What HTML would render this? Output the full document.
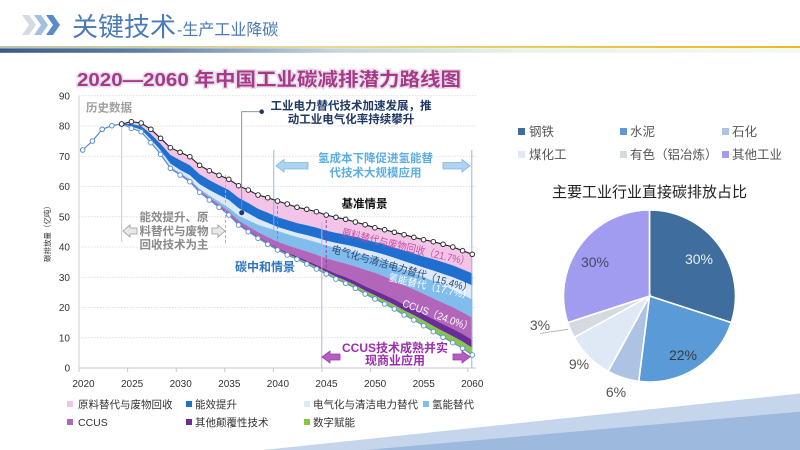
<!DOCTYPE html>
<html><head><meta charset="utf-8"><style>
html,body{margin:0;padding:0;background:#fff;width:800px;height:450px;overflow:hidden}
svg{display:block}
text{font-family:"Liberation Sans","Noto Sans CJK SC",sans-serif}
</style></head><body>
<svg id="s" width="800" height="450" viewBox="0 0 800 450" xmlns="http://www.w3.org/2000/svg">
<defs>
<linearGradient id="g1" x1="0" x2="1"><stop offset="0" stop-color="#b8c4a8"/><stop offset="0.4" stop-color="#ead890"/><stop offset="1" stop-color="#f2b818"/></linearGradient>
<linearGradient id="g2" x1="0" x2="1"><stop offset="0" stop-color="#3a5a8a"/><stop offset="0.18" stop-color="#5e7fa8"/><stop offset="0.42" stop-color="#c4d4dc"/><stop offset="0.65" stop-color="#eaf3e8"/><stop offset="1" stop-color="#f4f9f0"/></linearGradient>
</defs>

<!-- header -->
<polygon points="22,15 29,15 36,25 29,35 22,35 29,25" fill="#d4dbe3"/>
<polygon points="34,15 41,15 48,25 41,35 34,35 41,25" fill="#a3bfe2"/>
<polygon points="46,15 53,15 60,25 53,35 46,35 53,25" fill="#5a8ac8"/>
<text x="72" y="36" font-size="26" fill="#4a7ab8">关键技术</text>
<text x="177" y="35" font-size="16" fill="#4a7ab8">-生产工业降碳</text>
<rect x="0" y="46" width="800" height="2" fill="url(#g1)"/>
<rect x="0" y="48.3" width="800" height="4.5" fill="url(#g2)"/>

<!-- bottom-right decoration -->
<polygon points="263,450 800,393.5 800,450" fill="#c5d6ec"/>
<polygon points="366,450 800,411.7 800,450" fill="#9db9dd"/>

<!-- chart title -->
<text x="77" y="86" font-size="18.5" font-weight="bold" fill="#a53a88" stroke="#eadcea" stroke-width="3" paint-order="stroke" textLength="384" lengthAdjust="spacingAndGlyphs">2020—2060 年中国工业碳减排潜力路线图</text>

<!-- grid -->
<g id="grid" stroke="#d6d6d6" stroke-width="0.8" stroke-dasharray="1.5,1.5"></g>
<line x1="79" y1="96" x2="79" y2="368" stroke="#d0d0d0" stroke-width="1"/>
<line x1="79" y1="368" x2="476" y2="368" stroke="#c8c8c8" stroke-width="1"/>
<g id="ticks" stroke="#c8c8c8" stroke-width="1"></g>
<g id="ylab" font-size="10" fill="#333" text-anchor="end"></g>
<g id="xlab" font-size="10" fill="#333" text-anchor="middle"></g>
<text transform="translate(50,232) rotate(-90)" font-size="7.5" fill="#333" text-anchor="middle">碳排放量（亿吨）</text>

<g id="bands"></g>

<!-- vertical guide lines -->
<line x1="121.7" y1="124" x2="121.7" y2="242" stroke="#c8c8c8" stroke-width="1"/>
<line x1="225.5" y1="175" x2="225.5" y2="243" stroke="#b0b0b0" stroke-width="0.9" stroke-dasharray="3,2"/>
<line x1="273.8" y1="150" x2="273.8" y2="238" stroke="#7ab6e6" stroke-width="0.9"/>
<line x1="471.8" y1="150" x2="471.8" y2="368" stroke="#7ab6e6" stroke-width="0.9"/>
<line x1="321.8" y1="222" x2="321.8" y2="368" stroke="#c8a8dc" stroke-width="1"/>

<g id="lines"></g>

<!-- annotations -->
<text x="86" y="111.5" font-size="11.5" fill="#a0a0a0" font-weight="bold">历史数据</text>

<g font-size="11.5" fill="#8a8a8a" font-weight="bold" text-anchor="middle">
<text x="174" y="221">能效提升、原</text>
<text x="174" y="235">料替代与废物</text>
<text x="174" y="248.5">回收技术为主</text>
</g>
<polygon points="123,231 130,225 130,228 137,228 137,234 130,234 130,237" fill="#e8e8e8" stroke="#9a9a9a" stroke-width="0.8"/>
<polygon points="225,231 218,225 218,228 212,228 212,234 218,234 218,237" fill="#e8e8e8" stroke="#9a9a9a" stroke-width="0.8"/>

<polyline points="261.7,111.7 241.7,111.7 241.7,212.7" fill="none" stroke="#7a8698" stroke-width="0.9"/>
<circle cx="261.7" cy="111.7" r="2.3" fill="#1f3864"/>
<circle cx="241.7" cy="212.7" r="2.5" fill="#1f3864"/>
<g font-size="11.5" fill="#1f3864" font-weight="bold" text-anchor="middle">
<text x="351" y="109.5">工业电力替代技术加速发展，推</text>
<text x="351" y="123">动工业电气化率持续攀升</text>
</g>

<g font-size="11.5" fill="#5aaee4" font-weight="bold" text-anchor="middle">
<text x="375.5" y="162">氢成本下降促进氢能替</text>
<text x="375.5" y="176.5">代技术大规模应用</text>
</g>
<polygon points="276,165.7 284,159.5 284,162.5 308,162.5 308,169 284,169 284,172" fill="#aed3ef" stroke="#7bb8e4" stroke-width="0.8"/>
<polygon points="470,165.7 462,159.5 462,162.5 443,162.5 443,169 462,169 462,172" fill="#aed3ef" stroke="#7bb8e4" stroke-width="0.8"/>

<text x="364.5" y="207.5" font-size="11.5" font-weight="bold" fill="#111" text-anchor="middle">基准情景</text>
<text x="235" y="271" font-size="12" font-weight="bold" fill="#2e75c0">碳中和情景</text>

<text transform="translate(341.2,235.7) rotate(13.2)" font-size="10.5" fill="#c44fa2" textLength="131" lengthAdjust="spacingAndGlyphs">原料替代与废物回收（21.7%）</text>
<text transform="translate(330.8,252.2) rotate(16)" font-size="10.5" fill="#2c4a7a" textLength="146" lengthAdjust="spacingAndGlyphs">电气化与清洁电力替代（15.4%）</text>
<text transform="translate(388,280.4) rotate(13)" font-size="10" fill="#ffffff" textLength="85" lengthAdjust="spacingAndGlyphs">氢能替代（17.7%）</text>
<text transform="translate(401.6,306.1) rotate(20)" font-size="10.5" fill="#ffffff" textLength="74" lengthAdjust="spacingAndGlyphs">CCUS（24.0%）</text>

<g font-size="12" fill="#9b2fae" font-weight="bold" text-anchor="middle">
<text x="395" y="352">CCUS技术成熟并实</text>
<text x="395" y="364.5">现商业应用</text>
</g>
<polygon points="322,357 330,351 330,354 340,354 340,360 330,360 330,363" fill="#b35fc2" stroke="#9a3aae" stroke-width="0.8"/>
<polygon points="470,357 462,351 462,354 453,354 453,360 462,360 462,363" fill="#b35fc2" stroke="#9a3aae" stroke-width="0.8"/>

<!-- chart legend -->
<g font-size="10.5" fill="#333">
<rect x="67" y="401" width="6" height="6" fill="#f3c3e8"/><text x="78" y="408">原料替代与废物回收</text>
<rect x="186" y="401" width="6" height="6" fill="#1f6fd0"/><text x="195" y="408">能效提升</text>
<rect x="304" y="401" width="6" height="6" fill="#dde9f6"/><text x="313" y="408">电气化与清洁电力替代</text>
<rect x="423" y="401" width="6" height="6" fill="#80bdec"/><text x="432" y="408">氢能替代</text>
<rect x="67" y="419" width="6" height="6" fill="#b266b9"/><text x="78" y="426">CCUS</text>
<rect x="186" y="419" width="6" height="6" fill="#6b2b99"/><text x="195" y="426">其他颠覆性技术</text>
<rect x="304" y="419" width="6" height="6" fill="#86c846"/><text x="313" y="426">数字赋能</text>
</g>

<!-- pie legend -->
<g font-size="12.5" fill="#555">
<rect x="518" y="128" width="7" height="7" fill="#3f6e9e"/><text x="529" y="136">钢铁</text>
<rect x="620" y="128" width="7" height="7" fill="#5a9ad6"/><text x="630" y="136">水泥</text>
<rect x="722" y="128" width="7" height="7" fill="#adc3e3"/><text x="732" y="136">石化</text>
<rect x="518" y="151" width="7" height="7" fill="#dfe9f6"/><text x="529" y="159">煤化工</text>
<rect x="620" y="151" width="7" height="7" fill="#d5dae1"/><text x="630" y="159">有色（铝冶炼）</text>
<rect x="722" y="151" width="7" height="7" fill="#a29cf0"/><text x="732" y="159">其他工业</text>
</g>
<text x="649.5" y="197" font-size="15" fill="#222" text-anchor="middle">主要工业行业直接碳排放占比</text>
<g id="pie"></g>
<g font-size="14" text-anchor="middle">
<text x="699" y="264" fill="#e6eef8">30%</text>
<text x="683" y="360" fill="#3a3a3a">22%</text>
<text x="616" y="397" fill="#555">6%</text>
<text x="579" y="369" fill="#555">9%</text>
<text x="540" y="330" fill="#555">3%</text>
<text x="595" y="267" fill="#404a64">30%</text>
</g>
<line x1="540" y1="333.5" x2="568" y2="329.3" stroke="#aaa" stroke-width="0.8"/>
</svg>
<script>
(function(){
var NS="http://www.w3.org/2000/svg";
function el(tag,attrs,parent,txt){var e=document.createElementNS(NS,tag);for(var k in attrs)e.setAttribute(k,attrs[k]);if(txt!==undefined)e.textContent=txt;parent.appendChild(e);return e;}
function X(y){return 82.7+(y-2020)*9.74;}
var grid=document.getElementById('grid'),ylab=document.getElementById('ylab'),xlab=document.getElementById('xlab'),ticks=document.getElementById('ticks');
for(var v=0;v<=90;v+=10){var y=368-v*3.025;if(v>0)el('line',{x1:79,y1:y,x2:476,y2:y},grid);el('text',{x:70,y:y+3.5},ylab,String(v));}
for(var k=0;k<=8;k++){var tx=79+48.6*k;el('line',{x1:tx,y1:368,x2:tx,y2:372},ticks);el('text',{x:83.5+48.6*k,y:387},xlab,String(2020+5*k));}
var B=[124,121.7,123,129.3,138.3,147.7,152.3,156.7,165.3,170.7,175.3,179.3,185.7,190,195,197.7,201,204,207.3,209.3,211.7,215,217.3,219.3,222,224.7,227.7,229.7,232.3,234.7,237.3,239.7,241.7,244.3,247,250.7,254.3];
var N=[124,128.3,131.7,142.7,154.3,168.3,175,181.7,192.3,200,207.3,215,225,231.7,238.3,244.3,250,255,259.3,264,269,274,279,283.3,288.3,294,299,304,309,315,320,325.7,331.7,337.3,342.7,348.3,355];
var K=[[2024,[.35,.4,.15,.04,.04,.01,.01]],[2030,[.35,.43,.14,.03,.03,.01,.01]],[2035,[.30,.28,.22,.10,.07,.015,.015]],[2040,[.33,.20,.08,.22,.13,.02,.02]],[2050,[.20,.14,.08,.21,.25,.07,.05]],[2060,[.19,.12,.14,.18,.22,.08,.07]]];
function frac(yr){for(var i=0;i<K.length-1;i++){if(yr>=K[i][0]&&yr<=K[i+1][0]){var t=(yr-K[i][0])/(K[i+1][0]-K[i][0]);return K[i][1].map(function(a,j){return a+(K[i+1][1][j]-a)*t;});}}return K[K.length-1][1];}
var cols=['#f3c3e8','#1f6fd0','#dde9f6','#80bdec','#b266b9','#6b2b99','#86c846'];
var bounds=[];
for(var i=0;i<37;i++){var f=frac(2024+i),b=B[i],g=N[i]-b,ys=[b],c=b;for(var j=0;j<7;j++){c+=g*f[j];ys.push(c);}bounds.push(ys);}
var bands=document.getElementById('bands');
for(var j=0;j<7;j++){var d='';for(var i=0;i<37;i++){d+=(i?'L':'M')+X(2024+i).toFixed(2)+','+bounds[i][j].toFixed(2);}for(var i=36;i>=0;i--){d+='L'+X(2024+i).toFixed(2)+','+bounds[i][j+1].toFixed(2);}el('path',{d:d+'Z',fill:cols[j]},bands);}
/* dashed lines inside bands */
function bandLine(yr,col){var i=yr-2024;el('line',{x1:X(yr),y1:bounds[i][0],x2:X(yr),y2:bounds[i][7],stroke:col,'stroke-width':0.9,'stroke-dasharray':'3,2'},bands);}
bandLine(2040,'#4f8fd0');bandLine(2045,'#8a3aa8');
var lines=document.getElementById('lines');
function series(ys,y0,col){var pts=ys.map(function(y,i){return X(y0+i).toFixed(2)+','+y;}).join(' ');el('polyline',{points:pts,fill:'none',stroke:col,'stroke-width':1.1},lines);ys.forEach(function(y,i){el('circle',{cx:X(y0+i),cy:y,r:2.3,fill:'#fff',stroke:col,'stroke-width':0.9},lines);});}
series([150,141,129.3,125.7,124],2020,'#4a80c8');
series(N,2024,'#5a8fd6');
series(B,2024,'#222');
var pie=document.getElementById('pie'),cx=649.5,cy=296,r=86,a0=0;
[[30,'#3f6e9e'],[22,'#5a9ad6'],[6,'#adc3e3'],[9,'#dfe9f6'],[3,'#d5dae1'],[30,'#a29cf0']].forEach(function(p){var a1=a0+p[0]*3.6;function pt(a){var rad=a*Math.PI/180;return (cx+r*Math.sin(rad)).toFixed(2)+','+(cy-r*Math.cos(rad)).toFixed(2);}el('path',{d:'M'+cx+','+cy+'L'+pt(a0)+'A'+r+','+r+' 0 '+((a1-a0)>180?1:0)+' 1 '+pt(a1)+'Z',fill:p[1],stroke:'#fff','stroke-width':1.6},pie);a0=a1;});
})();
</script>
</body></html>
